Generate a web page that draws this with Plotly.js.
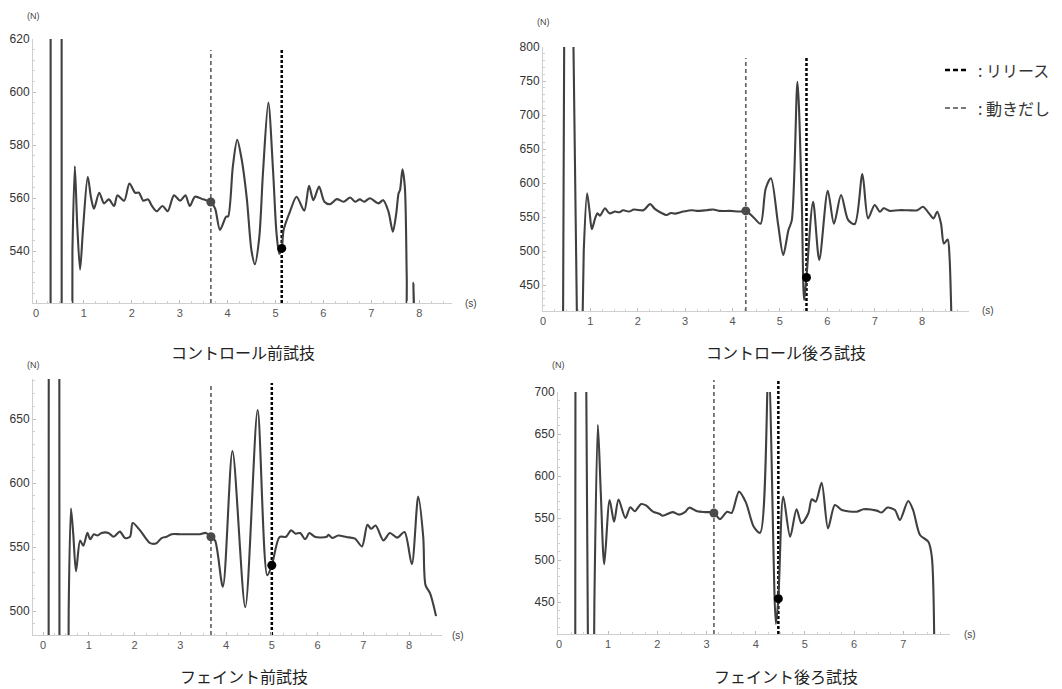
<!DOCTYPE html>
<html><head><meta charset="utf-8">
<script src="https://cdn.plot.ly/plotly-3.0.1.min.js"></script>
<style>html,body{margin:0;padding:0;background:#fff}#chart{width:1062px;height:689px}</style>
</head><body><div id="chart"></div>
<script>
// ---- data (time in s, force in N) ----
const captions = ["コントロール前試技", "コントロール後ろ試技", "フェイント前試技", "フェイント後ろ試技"];

const t1 = [0.25,0.30,0.31,0.53,0.54,0.74,0.76,0.81,0.86,0.92,0.98,1.08,1.15,1.21,1.32,1.42,1.52,1.63,1.70,1.84,1.95,2.07,2.15,2.24,2.34,2.42,2.52,2.64,2.75,2.88,3.01,3.12,3.21,3.32,3.49,3.65,3.74,3.84,3.97,4.01,4.11,4.20,4.29,4.40,4.50,4.57,4.66,4.74,4.85,4.95,5.02,5.08,5.13,5.17,5.30,5.44,5.60,5.70,5.79,5.91,6.02,6.14,6.28,6.42,6.56,6.66,6.76,6.85,6.97,7.15,7.25,7.36,7.45,7.52,7.57,7.60,7.65,7.70,7.74,7.78,7.85,7.88,7.91];
const f1 = [0,0,1200,1200,0,0,540,572,550,533,548,568,560,556,562,558,559.5,557,561,559,565.5,562,562,559,559.5,557,555,557,555,561,559,561,557,560.5,559.5,558.5,556,548,553,553,572,582,575,560,540,535,545,570,596,570,547,539,541,548,554.8,560.5,555.2,564.6,559.2,564.3,558.6,557.7,559.6,558.6,560.2,558.6,559.5,558.6,559.9,558,559.2,554.8,547.3,554,561.8,563,570.8,564.3,530,490,490,528,490];

const t2 = [0.40,0.47,0.57,0.79,0.81,0.86,0.93,0.98,1.03,1.10,1.15,1.20,1.31,1.40,1.52,1.61,1.69,1.81,1.92,2.12,2.26,2.36,2.50,2.61,2.70,2.78,2.96,3.14,3.24,3.45,3.59,3.73,3.95,4.16,4.28,4.45,4.59,4.70,4.81,4.96,5.07,5.18,5.25,5.37,5.46,5.51,5.56,5.70,5.83,6.01,6.14,6.29,6.44,6.58,6.74,6.86,7.00,7.11,7.19,7.32,7.50,7.70,7.90,8.02,8.15,8.24,8.32,8.40,8.46,8.54,8.58,8.62,8.66];
const f2 = [0,1200,1200,0,300,500,585,560,532,548,555.4,552,562.8,555.4,558,557,560,558,561,560,569,562,556,553,556,555,558,560,559,560,561,559,559,558,559,549,540,592,607,540,494,531,545,749,575,428,462,572.5,487,588.7,540,582.4,545.6,539.7,613,548,567.6,557.8,562.8,559,560,560,560,565,555,548,557.8,540,511,517,490,400,300];

const t3 = [0.10,0.12,0.13,0.35,0.36,0.54,0.56,0.61,0.66,0.72,0.81,0.88,0.97,1.03,1.11,1.19,1.28,1.43,1.54,1.68,1.79,1.90,1.96,2.12,2.34,2.48,2.59,2.70,2.81,3.00,3.22,3.43,3.56,3.67,3.76,3.93,4.14,4.42,4.69,4.90,5.00,5.17,5.31,5.42,5.52,5.62,5.73,5.82,5.95,6.20,6.24,6.32,6.45,6.63,6.82,6.97,7.09,7.17,7.27,7.44,7.58,7.74,7.90,8.06,8.20,8.31,8.36,8.46,8.59];
const f3 = [300,300,1200,1200,300,300,500,580,560,531,555,551,561,556,560,559,561,561,558,562,557,558,568.7,563,553,553,557,558,560,560,560,560,561,558,555,519,625,503,657,528,535.7,557.8,558,563,560.4,560.9,556,560.9,557.8,558,559.6,557,559,557.8,556.5,550.5,567.4,564.2,566.8,555.2,560.9,557.3,561.7,536.5,589.4,557.8,520.2,513.7,496];

const t4 = [0.32,0.33,0.34,0.50,0.60,0.70,0.72,0.79,0.85,0.92,1.03,1.12,1.21,1.35,1.45,1.54,1.67,1.77,1.91,2.04,2.11,2.31,2.44,2.56,2.65,2.81,2.98,3.15,3.27,3.42,3.51,3.66,3.80,3.96,4.09,4.26,4.41,4.46,4.56,4.70,4.83,4.93,5.07,5.14,5.22,5.34,5.47,5.61,5.75,6.05,6.19,6.46,6.56,6.68,6.83,6.93,7.10,7.20,7.34,7.51,7.58,7.64];
const f4 = [300,300,1200,1200,300,300,450,661,580,495,571.4,545.5,572,550,562.7,558,566.6,565,557.5,555,552.7,557,554,557,562.3,558,557,556.3,548.7,557.5,556,581.4,568.6,539.6,532.4,730,424,454,575.4,527.7,560.4,543.7,555.6,572.3,569.5,592,537.7,565.5,559.5,557.5,560.4,558.8,556.5,562.4,559.5,547.6,570.2,559.5,529.8,521.8,504,300];

// the take-off spikes (first points of each series) are drawn straight, the rest smoothed
const spikeEnd = [6, 5, 6, 6];

const startT = [3.65, 4.28, 3.67, 3.15];
const startF = [558.5, 559, 558, 556];
const releaseT = [5.13, 5.56, 5.00, 4.46];
const releaseF = [541, 461, 535.7, 454];

const yTickStep = [20, 50, 50, 50];
const legendLabels = [": リリース", ": 動きだし"];

// ---- layout geometry (pixels) ----
const W = 1062, H = 689;
const px = v => v / W, py = v => 1 - v / H;
const panels = [
  {x:[33,452], y:[39,303], xr:[-0.063,8.685], yr:[520.4,620], top:50, nx:[33,16], sx:[471,303], cap:[243,352]},
  {x:[543,969], y:[47,311], xr:[0,8.99], yr:[411.8,800], top:58, nx:[543,22], sx:[988,311], cap:[786,352]},
  {x:[33,442], y:[379,635], xr:[-0.22,8.72], yr:[481.25,681.25], top:383, nx:[33,365], sx:[458,635], cap:[244,676]},
  {x:[558,950], y:[392,634], xr:[-0.02,7.95], yr:[411.9,700], top:380, nx:[558,365], sx:[970,634], cap:[786,676]}
];
const ts = [t1,t2,t3,t4], fs = [f1,f2,f3,f4];

const traces = [];
const layout = {
  width: W, height: H, margin:{l:0,r:0,t:0,b:0},
  paper_bgcolor:'#fff', plot_bgcolor:'#fff', showlegend:false,
  shapes:[], annotations:[]
};
const fam = 'Liberation Sans, Arial, sans-serif';
const tickFont = {family:fam, size:12, color:'#333'};
const curve = {color:'#404040', width:2.1};

panels.forEach((p,i) => {
  const n = i + 1, xa = 'x' + (n>1?n:''), ya = 'y' + (n>1?n:'');
  const k = spikeEnd[i];
  traces.push({x: ts[i].slice(0, k+1), y: fs[i].slice(0, k+1), xaxis: xa, yaxis: ya, type:'scatter', mode:'lines',
    line:Object.assign({shape:'linear'}, curve), hoverinfo:'skip'});
  traces.push({x: ts[i].slice(k), y: fs[i].slice(k), xaxis: xa, yaxis: ya, type:'scatter', mode:'lines',
    line:Object.assign({shape:'spline', smoothing:0.8}, curve), hoverinfo:'skip'});
  traces.push({x:[startT[i], releaseT[i]], y:[startF[i], releaseF[i]], xaxis: xa, yaxis: ya,
    type:'scatter', mode:'markers', marker:{size:9, color:['#4a4a4a','#000']}, cliponaxis:false});
  const axBase = {showgrid:false, zeroline:false, showline:true, linecolor:'#cfcfcf', linewidth:1,
    ticks:'inside', ticklen:3, tickcolor:'#bdbdbd', fixedrange:true};
  layout['xaxis' + (n>1?n:'')] = Object.assign({}, axBase, {
    domain:[px(p.x[0]), px(p.x[1])], range:p.xr, anchor: ya, dtick:1, tick0:0,
    tickfont:{family:fam, size:11, color:'#555'},
    minor:{ticks:'inside', ticklen:2, tickcolor:'#d0d0d0', dtick:0.25}
  });
  layout['yaxis' + (n>1?n:'')] = Object.assign({}, axBase, {
    domain:[py(p.y[1]), py(p.y[0])], range:p.yr, anchor: xa, dtick:yTickStep[i], tick0:0,
    tickfont:tickFont,
    minor:{ticks:'inside', ticklen:2, tickcolor:'#d0d0d0', dtick:yTickStep[i]/5}
  });
  layout.shapes.push({type:'line', xref:xa, yref:'paper', x0:startT[i], x1:startT[i],
    y0:py(p.y[1]), y1:py(p.top), line:{color:'#666', width:1.7, dash:'4px,3px'}, layer:'below'});
  layout.shapes.push({type:'line', xref:xa, yref:'paper', x0:releaseT[i], x1:releaseT[i],
    y0:py(p.y[1]), y1:py(p.top), line:{color:'#000', width:2.5, dash:'3px,2px'}, layer:'below'});
  layout.annotations.push({xref:'paper', yref:'paper', x:px(p.nx[0]), y:py(p.nx[1]), text:'(N)',
    showarrow:false, xanchor:'center', yanchor:'middle', font:{family:fam, size:9, color:'#444'}});
  layout.annotations.push({xref:'paper', yref:'paper', x:px(p.sx[0]), y:py(p.sx[1]), text:'(s)',
    showarrow:false, xanchor:'center', yanchor:'middle', font:{family:fam, size:10, color:'#444'}});
  layout.annotations.push({xref:'paper', yref:'paper', x:px(p.cap[0]), y:py(p.cap[1]), text:captions[i],
    showarrow:false, xanchor:'center', yanchor:'middle', font:{family:'Noto Sans CJK JP, sans-serif', size:16, color:'#222'}});
});

// legend (key in top right)
const legY = [70, 108];
const legStyle = [{color:'#000', width:2.6, dash:'5px,3px'}, {color:'#777', width:2, dash:'5px,3px'}];
legendLabels.forEach((lab, k) => {
  layout.shapes.push({type:'line', xref:'paper', yref:'paper', x0:px(945), x1:px(966),
    y0:py(legY[k]), y1:py(legY[k]), line:legStyle[k]});
  layout.annotations.push({xref:'paper', yref:'paper', x:px(976), y:py(legY[k]), text:lab,
    showarrow:false, xanchor:'left', yanchor:'middle', font:{family:'Noto Sans CJK JP, sans-serif', size:16, color:'#333'}});
});

Plotly.newPlot('chart', traces, layout, {displayModeBar:false, staticPlot:true});
</script>
</body></html>
